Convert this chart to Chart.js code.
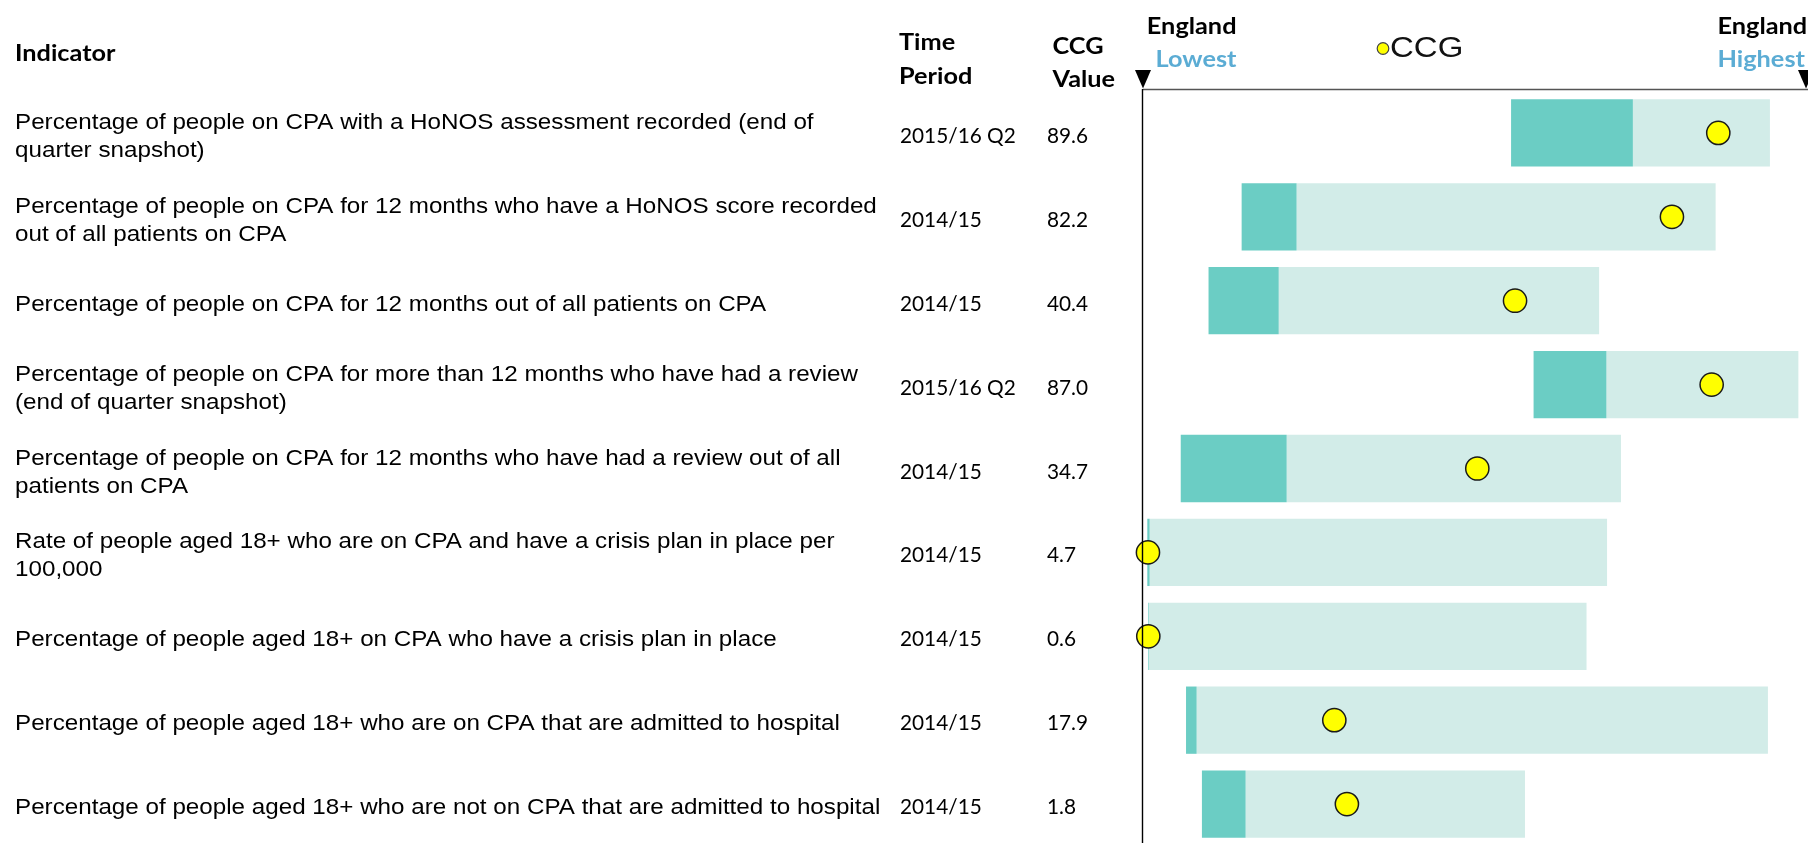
<!DOCTYPE html>
<html>
<head>
<meta charset="utf-8">
<title>CPA indicators – CCG compared with England range</title>
<script src="https://cdn.jsdelivr.net/npm/chart.js@4.4.1/dist/chart.umd.min.js"></script>
<style>
  html, body { margin: 0; padding: 0; background: #ffffff; overflow: hidden; }
  canvas { display: block; }
</style>
</head>
<body>
<canvas id="spine" width="1808" height="846"></canvas>
<script>
// Indicator names, split into the lines they are printed on
const indicatorLines = [
  ["Percentage of people on CPA with a HoNOS assessment recorded (end of", "quarter snapshot)"],
  ["Percentage of people on CPA for 12 months who have a HoNOS score recorded", "out of all patients on CPA"],
  ["Percentage of people on CPA for 12 months out of all patients on CPA"],
  ["Percentage of people on CPA for more than 12 months who have had a review", "(end of quarter snapshot)"],
  ["Percentage of people on CPA for 12 months who have had a review out of all", "patients on CPA"],
  ["Rate of people aged 18+ who are on CPA and have a crisis plan in place per", "100,000"],
  ["Percentage of people aged 18+ on CPA who have a crisis plan in place"],
  ["Percentage of people aged 18+ who are on CPA that are admitted to hospital"],
  ["Percentage of people aged 18+ who are not on CPA that are admitted to hospital"]
];
const timePeriods = ["2015/16 Q2", "2014/15", "2014/15", "2015/16 Q2", "2014/15", "2014/15", "2014/15", "2014/15", "2014/15"];
const ccgValues = [89.6, 82.2, 40.4, 87.0, 34.7, 4.7, 0.6, 17.9, 1.8];

// Positions along the England range (0 = England lowest, 100 = England highest)
const rangeStart = [55.6, 14.9, 9.9, 59.0, 5.7, 0.65, 0.8, 6.5, 8.9];
const rangeSplit = [74.0, 23.2, 20.5, 70.0, 21.7, 1.0, 0.9, 8.1, 15.5];
const rangeEnd   = [94.7, 86.5, 68.9, 99.0, 72.2, 70.1, 67.0, 94.4, 57.7];
const ccgPosition = [86.9, 79.9, 56.2, 85.9, 50.5, 0.75, 0.8, 28.9, 30.8];

const axisLabels = { lowTop: "England", lowBottom: "Lowest", highTop: "England", highBottom: "Highest", legend: "CCG" };
const columnHeads = { indicator: "Indicator", period: ["Time", "Period"], value: ["CCG", "Value"] };

const DARK = "#6BCDC4";
const LIGHT = "#D2ECE8";
const BLUE = "#5BACD4";
const DOT = "#FFFF00";

const labels = indicatorLines.map(l => l.join(" "));

// text is drawn slightly widened to follow the report's proportions
function drawText(ctx, text, x, y, font, color, align, stretch) {
  ctx.save();
  ctx.font = font;
  ctx.fillStyle = color;
  ctx.textBaseline = "alphabetic";
  ctx.textAlign = align || "left";
  ctx.translate(x, y);
  ctx.scale(stretch || 1.1, 1);
  ctx.fillText(text, 0, 0);
  ctx.restore();
}

function triangle(ctx, apexX, apexY) {
  ctx.beginPath();
  ctx.moveTo(apexX - 8, apexY - 18.5);
  ctx.lineTo(apexX + 8, apexY - 18.5);
  ctx.lineTo(apexX, apexY);
  ctx.closePath();
  ctx.fillStyle = "#000000";
  ctx.fill();
}

const tablePlugin = {
  id: "spineTable",
  afterDatasetsDraw(chart) {
    const ctx = chart.ctx;
    const area = chart.chartArea;
    const y = chart.scales.y;

    // frame of the England range
    ctx.save();
    ctx.strokeStyle = "#555555";
    ctx.lineWidth = 1.6;
    ctx.beginPath();
    ctx.moveTo(area.left, 89.5);
    ctx.lineTo(chart.width, 89.5);
    ctx.stroke();
    ctx.strokeStyle = "#000000";
    ctx.lineWidth = 1.4;
    ctx.beginPath();
    ctx.moveTo(area.left - 0.5, 89);
    ctx.lineTo(area.left - 0.5, chart.height);
    ctx.stroke();
    ctx.restore();
    triangle(ctx, area.left, 88.5);
    triangle(ctx, area.right + 1, 88.5);

    // headers
    const bold = "bold 23px Lato";
    drawText(ctx, columnHeads.indicator, 15, 61, bold, "#000");
    drawText(ctx, columnHeads.period[0], 899, 50, bold, "#000");
    drawText(ctx, columnHeads.period[1], 899, 83.5, bold, "#000");
    drawText(ctx, columnHeads.value[0], 1052.5, 53.5, bold, "#000");
    drawText(ctx, columnHeads.value[1], 1052.5, 87, bold, "#000");
    drawText(ctx, axisLabels.lowTop, 1236.5, 33.5, bold, "#000", "right");
    drawText(ctx, axisLabels.lowBottom, 1236.5, 66.5, bold, BLUE, "right");
    drawText(ctx, axisLabels.highTop, 1717.5, 33.5, bold, "#000");
    drawText(ctx, axisLabels.highBottom, 1717.5, 66.5, bold, BLUE);

    // legend
    ctx.save();
    ctx.beginPath();
    ctx.arc(1383, 48.5, 5.8, 0, Math.PI * 2);
    ctx.fillStyle = DOT;
    ctx.fill();
    ctx.lineWidth = 1.2;
    ctx.strokeStyle = "#444444";
    ctx.stroke();
    ctx.restore();
    drawText(ctx, axisLabels.legend, 1390, 56.5, "30px 'Liberation Sans'", "#111");

    // table rows
    const body = "22px 'Liberation Sans'";
    const num = "21px Lato";
    indicatorLines.forEach((lines, i) => {
      const yc = y.getPixelForValue(i);
      if (lines.length === 1) {
        drawText(ctx, lines[0], 15, yc + 10, body, "#000");
      } else {
        drawText(ctx, lines[0], 15, yc - 4, body, "#000");
        drawText(ctx, lines[1], 15, yc + 24, body, "#000");
      }
      drawText(ctx, timePeriods[i], 900, yc + 10, num, "#000", "left", 0.99);
      drawText(ctx, ccgValues[i].toFixed(1), 1047, yc + 10, num, "#000", "left", 0.99);
    });
  }
};

new Chart(document.getElementById("spine"), {
  type: "bar",
  data: {
    labels: labels,
    datasets: [
      {
        type: "line",
        label: "CCG",
        indexAxis: "y",
        data: ccgPosition,
        showLine: false,
        pointRadius: 11.6,
        pointBackgroundColor: DOT,
        pointBorderColor: "#1a1a1a",
        pointBorderWidth: 1.5,
        clip: false,
        order: 0
      },
      {
        label: "Lower part of range",
        data: rangeStart.map((s, i) => [s, rangeSplit[i]]),
        backgroundColor: DARK,
        borderWidth: 0,
        grouped: false,
        barPercentage: 0.802,
        categoryPercentage: 1,
        order: 1
      },
      {
        label: "Upper part of range",
        data: rangeSplit.map((s, i) => [s, rangeEnd[i]]),
        backgroundColor: LIGHT,
        borderWidth: 0,
        grouped: false,
        barPercentage: 0.802,
        categoryPercentage: 1,
        order: 2
      }
    ]
  },
  options: {
    indexAxis: "y",
    responsive: false,
    animation: false,
    devicePixelRatio: 1,
    layout: { autoPadding: false, padding: { left: 1143, right: 3, top: 91, bottom: 0 } },
    plugins: { legend: { display: false }, tooltip: { enabled: false } },
    scales: {
      x: { type: "linear", min: 0, max: 100, display: false },
      y: { type: "category", display: false, offset: true }
    }
  },
  plugins: [tablePlugin]
});
</script>
</body>
</html>
